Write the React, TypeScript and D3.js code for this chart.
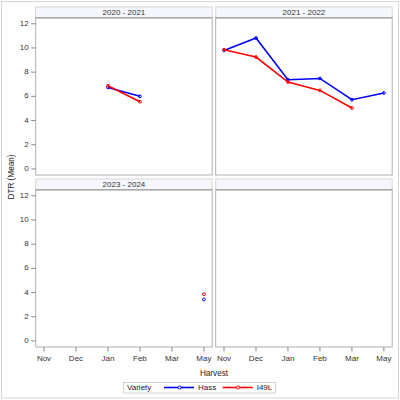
import * as d3 from "d3";

// Harvest months on the shared category axis
const months = ["Nov", "Dec", "Jan", "Feb", "Mar", "May"];
const yTicks = [0, 2, 4, 6, 8, 10, 12];
const seasons = ["2020 - 2021", "2021 - 2022", "2023 - 2024", ""];

// DTR means per month (null = no harvest)
const hass2020 = [null, null, 6.74, 6.0, null, null];
const i49l2020 = [null, null, 6.88, 5.56, null, null];
const hass2021 = [9.79, 10.82, 7.37, 7.48, 5.72, 6.28];
const i49l2021 = [9.85, 9.25, 7.18, 6.49, 5.04, null];
const hass2023 = [null, null, null, null, null, 3.43];
const i49l2023 = [null, null, null, null, null, 3.86];
const hassSeries = [hass2020, hass2021, hass2023, []];
const i49lSeries = [i49l2020, i49l2021, i49l2023, []];

const varieties = [
  { name: "Hass", color: "#0000ff" },
  { name: "I49L", color: "#ff0000" },
];

const W = 400;
const H = 400;
const font = "'Liberation Sans', Arial, sans-serif";
const fs = 8;
const colX = [35.7, 215.7];
const rowY = [7, 179];
const panelW = 176.5;
const headerH = 10.7;
const plotH = 157.3;

function Panel({ idx }: { idx: number }) {
  const col = idx % 2;
  const row = Math.floor(idx / 2);
  const x0 = colX[col];
  const y0 = rowY[row];
  const top = y0 + headerH;

  const x = d3.scalePoint<string>().domain(months).range([x0, x0 + panelW]).padding(0.26);
  const y = d3.scaleLinear().domain([-0.5, 12.5]).range([top + plotH, top]);

  const line = d3
    .line<number | null>()
    .defined((d) => d != null)
    .x((_, i) => x(months[i]) as number)
    .y((d) => y(d as number));

  const series = [hassSeries[idx], i49lSeries[idx]];

  return (
    <g>
      <rect x={x0} y={y0} width={panelW} height={headerH} fill="#f5f7fd" stroke="#d6d6d6" />
      <text
        x={x0 + panelW / 2}
        y={y0 + headerH / 2 + 0.5}
        textAnchor="middle"
        dominantBaseline="middle"
        fontSize={fs}
        fill="#333"
      >
        {seasons[idx]}
      </text>
      <rect x={x0} y={top} width={panelW} height={plotH} fill="white" stroke="#b0b0b0" />
      <line x1={x0} x2={x0 + panelW} y1={top} y2={top} stroke="#a8a8a8" strokeWidth={1.5} />

      {col === 0 &&
        yTicks.map((t) => (
          <g key={t}>
            <line x1={x0 - 4.5} x2={x0} y1={y(t)} y2={y(t)} stroke="#888" />
            <text
              x={x0 - 7}
              y={y(t)}
              textAnchor="end"
              dominantBaseline="middle"
              fontSize={fs}
              fill="#333"
            >
              {t}
            </text>
          </g>
        ))}

      {row === 1 &&
        months.map((m) => (
          <g key={m}>
            <line x1={x(m)} x2={x(m)} y1={top + plotH} y2={top + plotH + 4.5} stroke="#888" />
            <text
              x={x(m)}
              y={top + plotH + 12}
              textAnchor="middle"
              dominantBaseline="middle"
              fontSize={fs}
              fill="#333"
            >
              {m}
            </text>
          </g>
        ))}

      {series.map((vals, s) => (
        <g key={s}>
          <path d={line(vals) ?? ""} fill="none" stroke={varieties[s].color} strokeWidth={1.6} />
          {vals.map((v, i) =>
            v == null ? null : (
              <circle
                key={i}
                cx={x(months[i])}
                cy={y(v)}
                r={1.4}
                fill="none"
                stroke={varieties[s].color}
                strokeWidth={1}
              />
            )
          )}
        </g>
      ))}
    </g>
  );
}

export default function App() {
  const legendY = 387.5;
  return (
    <svg
      width={W}
      height={H}
      style={{ position: "absolute", left: 0, top: 0, fontFamily: font }}
    >
      <rect x={0} y={0} width={W} height={H} fill="white" />
      <rect x={1.5} y={1.5} width={397} height={396.5} fill="none" stroke="#d4d4d4" />

      {seasons.map((_, i) => (
        <Panel key={i} idx={i} />
      ))}

      <text
        transform={`translate(14,177) rotate(-90)`}
        textAnchor="middle"
        fontSize={8.2}
        fill="#222"
      >
        DTR (Mean)
      </text>
      <text x={214} y={376} textAnchor="middle" fontSize={8.2} fill="#222">
        Harvest
      </text>

      {/* legend */}
      <rect x={123.5} y={382.5} width={152} height={10.5} fill="white" stroke="#d0d0d0" />
      <text x={127} y={legendY} dominantBaseline="middle" fontSize={fs} fill="#222">
        Variety
      </text>
      {varieties.map((v, i) => {
        const lx = 164 + i * 58.7;
        return (
          <g key={v.name}>
            <line x1={lx} x2={lx + 30} y1={legendY} y2={legendY} stroke={v.color} strokeWidth={1.6} />
            <circle cx={lx + 15.5} cy={legendY} r={1.5} fill="white" stroke={v.color} strokeWidth={1} />
            <text x={lx + 34} y={legendY} dominantBaseline="middle" fontSize={fs} fill="#222">
              {v.name}
            </text>
          </g>
        );
      })}
    </svg>
  );
}
